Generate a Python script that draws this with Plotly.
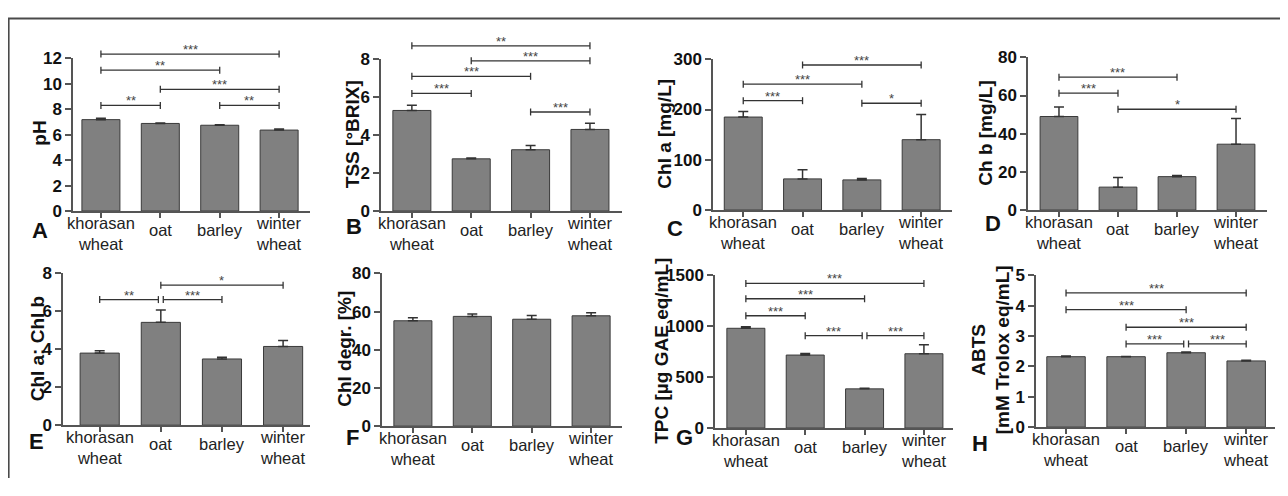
import plotly.graph_objects as go

# ---------------- data ----------------
categories = ["khorasan wheat", "oat", "barley", "winter wheat"]

ph_mean = [7.18, 6.88, 6.74, 6.36]
ph_err = [0.10, 0.03, 0.03, 0.08]
tss_mean = [5.30, 2.75, 3.23, 4.30]
tss_err = [0.27, 0.05, 0.22, 0.32]
chla_mean = [185, 62, 60, 140]
chla_err = [11, 18, 3, 50]
chlb_mean = [49, 12, 17.5, 34.5]
chlb_err = [5, 5, 0.6, 13.5]
ratio_mean = [3.80, 5.42, 3.49, 4.15]
ratio_err = [0.13, 0.65, 0.09, 0.32]
degr_mean = [55.2, 57.5, 56.0, 57.8]
degr_err = [1.6, 1.2, 2.0, 1.6]
tpc_mean = [980, 717, 385, 730]
tpc_err = [14, 15, 7, 88]
abts_mean = [2.32, 2.32, 2.45, 2.18]
abts_err = [0.02, 0.01, 0.025, 0.02]

# significance brackets: (from category, to category, bracket level, stars)
ph_sig = [(0, 1, 8.3, "**"), (2, 3, 8.3, "**"), (1, 3, 9.56, "***"),
          (0, 2, 11.07, "**"), (0, 3, 12.33, "***")]
tss_sig = [(0, 1, 6.2, "***"), (0, 2, 7.1, "***"), (1, 3, 7.92, "***"),
           (0, 3, 8.71, "**"), (2, 3, 5.22, "***")]
chla_sig = [(0, 1, 217.6, "***"), (0, 2, 250.5, "***"), (1, 3, 288.6, "***"),
            (2, 3, 212.5, "*")]
chlb_sig = [(0, 1, 61.2, "***"), (0, 2, 69.6, "***"), (1, 3, 52.8, "*")]
ratio_sig = [(0, 1, 6.62, "**"), (1, 2, 6.62, "***"), (1, 3, 7.38, "*")]
degr_sig = []
tpc_sig = [(0, 1, 1103, "***"), (0, 2, 1270, "***"), (0, 3, 1421, "***"),
           (1, 2, 907, "***"), (2, 3, 907, "***")]
abts_sig = [(0, 3, 4.42, "***"), (0, 2, 3.87, "***"), (1, 3, 3.29, "***"),
            (1, 2, 2.74, "***"), (2, 3, 2.74, "***")]

# ---------------- layout of panels (page pixels) ----------------
PAGE_W, PAGE_H = 1288, 496
OFF = 8                      # default body margin of the html page
W, H = PAGE_W - 2 * OFF, PAGE_H - 2 * OFF

panels = [
    dict(letter="A", title="pH", mean=ph_mean, err=ph_err, sig=ph_sig, ymax=12, dtick=2,
         px=(73, 310), py=(51, 210), xr=[-0.47, 3.52], tx=40, lx=40, ly=230),
    dict(letter="B", title="TSS [°BRIX]", mean=tss_mean, err=tss_err, sig=tss_sig, ymax=8, dtick=2,
         px=(381, 622), py=(52, 210), xr=[-0.52, 3.54], tx=352, lx=354, ly=226),
    dict(letter="C", title="Chl a [mg/L]", mean=chla_mean, err=chla_err, sig=chla_sig, ymax=300, dtick=100,
         px=(713, 952), py=(52, 209), xr=[-0.51, 3.52], tx=665, lx=675, ly=228),
    dict(letter="D", title="Ch b [mg/L]", mean=chlb_mean, err=chlb_err, sig=chlb_sig, ymax=80, dtick=20,
         px=(1028, 1267), py=(50, 209), xr=[-0.525, 3.525], tx=986, lx=993, ly=223),
    dict(letter="E", title="Chl a: Chl b", mean=ratio_mean, err=ratio_err, sig=ratio_sig, ymax=8, dtick=2,
         px=(63, 310), py=(275, 433), xr=[-0.6, 3.44], tx=37, lx=37, ly=450),
    dict(letter="F", title="Chl degr. [%]", mean=degr_mean, err=degr_err, sig=degr_sig, ymax=80, dtick=20,
         px=(382, 622), py=(275, 434), xr=[-0.52, 3.52], tx=345, lx=352, ly=446),
    dict(letter="G", title="TPC [µg GAE eq/mL]", mean=tpc_mean, err=tpc_err, sig=tpc_sig, ymax=1500, dtick=500,
         px=(715, 953), py=(277, 436), xr=[-0.52, 3.49], tx=662, lx=684, ly=446),
    dict(letter="H", title="ABTS<br>[mM Trolox eq/mL]", mean=abts_mean, err=abts_err, sig=abts_sig, ymax=5, dtick=1,
         px=(1036, 1275), py=(277, 435), xr=[-0.5, 3.48], tx=991, lx=980, ly=452),
]

FONT = "Liberation Sans, Arial, sans-serif"
AXC = "#555555"
BRC = "#333333"

fig = go.Figure()
shapes = []
annotations = []
layout_axes = {}


def px2x(v):
    return (v - OFF) / W


def py2y(v):
    return 1 - (v - OFF) / H


for k, p in enumerate(panels):
    n = "" if k == 0 else str(k + 1)
    xa, ya = "x" + n, "y" + n
    fig.add_trace(go.Bar(
        x=categories, y=p["mean"], xaxis=xa, yaxis=ya, width=0.64,
        marker=dict(color="#808080", line=dict(color="#3a3a3a", width=1)),
        error_y=dict(type="data", symmetric=False, array=p["err"],
                     arrayminus=[0] * len(p["err"]), color="#333333",
                     thickness=1.5, width=5),
        showlegend=False, hoverinfo="skip",
    ))
    layout_axes["xaxis" + n] = dict(
        domain=[px2x(p["px"][0]), px2x(p["px"][1])], anchor=ya,
        type="category", categoryorder="array", categoryarray=categories,
        range=p["xr"], showline=True, linecolor=AXC, linewidth=1.5,
        ticks="outside", ticklen=5, tickcolor=AXC, tickwidth=1.5,
        showticklabels=False, showgrid=False, zeroline=False, fixedrange=True,
    )
    ymax = p["ymax"]
    layout_axes["yaxis" + n] = dict(
        domain=[py2y(p["py"][1]), py2y(p["py"][0])], anchor=xa,
        range=[0, ymax], tick0=0, dtick=p["dtick"],
        showline=True, linecolor=AXC, linewidth=1.5,
        ticks="outside", ticklen=6, tickcolor=AXC, tickwidth=1.5,
        tickfont=dict(family=FONT, size=17, color="#111111", weight="bold"),
        showgrid=False, zeroline=False, fixedrange=True,
    )
    ydom = ya + " domain"
    # significance brackets
    for (i, j, lev, stars) in p["sig"]:
        shared_i = any(s[2] == lev and s[1] == i for s in p["sig"])
        shared_j = any(s[2] == lev and s[0] == j for s in p["sig"])
        x0 = i + (0.04 if shared_i else 0)
        x1 = j - (0.04 if shared_j else 0)
        yd = lev / ymax
        shapes.append(dict(type="line", xref=xa, yref=ydom, x0=x0, x1=x1, y0=yd, y1=yd,
                           line=dict(color=BRC, width=1.3)))
        for xc in (x0, x1):
            shapes.append(dict(type="line", xref=xa, yref=ydom, x0=xc, x1=xc,
                               ysizemode="pixel", yanchor=yd, y0=-3.5, y1=3.5,
                               line=dict(color=BRC, width=1.3)))
        annotations.append(dict(x=(x0 + x1) / 2, y=yd, xref=xa, yref=ydom,
                                text=stars, showarrow=False, yanchor="bottom",
                                yshift=-5,
                                font=dict(family=FONT, size=13, color="#444444")))
    # category labels
    ybot = p["py"][1]
    for ci, cat in enumerate(categories):
        words = cat.split(" ")
        off = 20 if len(words) == 1 else 23
        annotations.append(dict(x=ci, y=py2y(ybot + off), xref=xa, yref="paper",
                                text="<br>".join(words), showarrow=False, yanchor="middle",
                                font=dict(family=FONT, size=16.5, color="#222222")))
    # y-axis title
    annotations.append(dict(x=px2x(p["tx"]), y=py2y((p["py"][0] + p["py"][1]) / 2 - 1),
                            xref="paper", yref="paper", text="<b>" + p["title"] + "</b>",
                            textangle=-90, showarrow=False, xanchor="center", yanchor="middle",
                            font=dict(family=FONT, size=19, color="#111111")))
    # panel letter
    annotations.append(dict(x=px2x(p["lx"]), y=py2y(p["ly"]), xref="paper", yref="paper",
                            text="<b>" + p["letter"] + "</b>", showarrow=False,
                            xanchor="center", yanchor="middle",
                            font=dict(family=FONT, size=22, color="#111111")))

# outer frame (top and left edges)
shapes.append(dict(type="line", xref="paper", yref="paper", x0=px2x(7), x1=1.0,
                   y0=py2y(9.5), y1=py2y(9.5), line=dict(color="#4a4a4a", width=2)))
shapes.append(dict(type="line", xref="paper", yref="paper", x0=px2x(8.8), x1=px2x(8.8),
                   y0=py2y(9), y1=0, line=dict(color="#4a4a4a", width=1.6)))

fig.update_layout(
    width=W, height=H, margin=dict(l=0, r=0, t=0, b=0),
    paper_bgcolor="white", plot_bgcolor="white",
    font=dict(family=FONT, color="#111111"),
    shapes=shapes, annotations=annotations, showlegend=False,
    **layout_axes,
)

fig.write_html("out.html")
